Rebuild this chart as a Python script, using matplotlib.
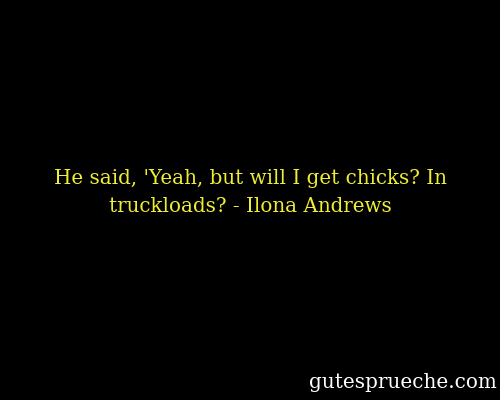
import matplotlib
matplotlib.use("Agg")
import matplotlib.pyplot as plt

quote_lines = ["He said, 'Yeah, but will I get chicks? In",
               "truckloads? - Ilona Andrews"]
watermark = "gutesprueche.com"

fig = plt.figure(figsize=(5, 4), dpi=100, facecolor="black")

# quote lines, centred
fig.text(0.5, 1 - 178 / 400, quote_lines[0], color="#eeee33", fontsize=14.3,
         family="DejaVu Serif", ha="center", va="center")
fig.text(0.5, 1 - 207 / 400, quote_lines[1], color="#eeee33", fontsize=14.3,
         family="DejaVu Serif", ha="center", va="center")

# watermark bottom right
fig.text(0.994, 1 - 383 / 400, watermark, color="white", fontsize=14.4,
         family="DejaVu Serif", ha="right", va="center")

fig.savefig("out.png", dpi=100, facecolor="black")
